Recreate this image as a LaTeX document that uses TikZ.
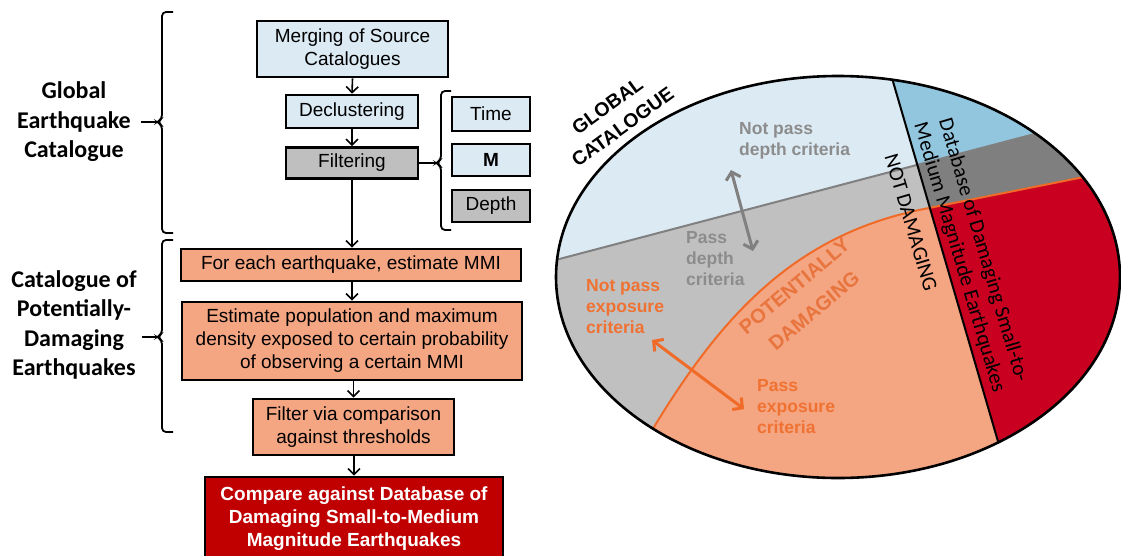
\documentclass[tikz,border=0pt]{standalone}
\usepackage{fontspec}
\setmainfont{Liberation Sans}
\newfontfamily\calibri{Carlito}
\usetikzlibrary{arrows.meta,shapes.geometric}
\definecolor{boxblue}{HTML}{DCEAF4}
\definecolor{boxgray}{HTML}{BFBFBF}
\definecolor{salmon}{HTML}{F4A582}
\definecolor{darkred}{HTML}{C00000}
\definecolor{elblue}{HTML}{DCEAF4}
\definecolor{emblue}{HTML}{92C5DE}
\definecolor{elgray}{HTML}{C0C0C0}
\definecolor{edgray}{HTML}{7F7F7F}
\definecolor{crimson}{HTML}{CA0020}
\definecolor{orangeln}{HTML}{F06A28}
\definecolor{orangetx}{HTML}{F07232}
\definecolor{potorange}{HTML}{E8743E}
\definecolor{graytx}{HTML}{8C8C8C}
\definecolor{grayln}{HTML}{808080}
\begin{document}
\begin{tikzpicture}[x=1pt,y=-1pt,
  flow/.style={draw=black, line width=2.6pt, align=center, inner sep=0pt,
    font=\fontsize{19}{23}\selectfont},
  conn/.style={line width=1.6pt, -{Straight Barb[length=6pt,width=12pt,line width=1.6pt]}},
  brk/.style={line width=1.8pt, rounded corners=4pt},
  lab/.style={font=\calibri\bfseries\fontsize{24}{29.5}\selectfont, align=center, inner ysep=0pt},
  gtext/.style={text=graytx, font=\bfseries\fontsize{17.5}{21}\selectfont, align=left, inner sep=0pt, anchor=west},
  otext/.style={text=orangetx, font=\bfseries\fontsize{17.5}{21}\selectfont, align=left, inner sep=0pt, anchor=west},
  pottext/.style={text=potorange, rotate=40, inner sep=0pt, font=\bfseries\fontsize{20}{24}\selectfont},
  dblarrow/.style={line width=3pt, {Straight Barb[length=7pt,width=15pt,line width=3pt]}-{Straight Barb[length=7pt,width=15pt,line width=3pt]}},
]
\clip (0,0) rectangle (1121,555);
\fill[white] (0,0) rectangle (1121,555);

% ---------------- left flow chart ----------------
\node[flow, fill=boxblue, minimum width=191pt, minimum height=56pt] (merge) at (352.5,49) {Merging of Source\\Catalogues};
\node[flow, fill=boxblue, minimum width=132pt, minimum height=33pt] (decl) at (352,111.5) {Declustering};
\node[flow, fill=boxgray, minimum width=132pt, minimum height=31pt] (filt) at (352,163) {Filtering};
\node[flow, fill=boxblue, minimum width=78pt, minimum height=34pt] (time) at (491,114) {Time};
\node[flow, fill=boxblue, minimum width=78pt, minimum height=32pt] (mag) at (491,160) {\bfseries M};
\node[flow, fill=boxgray, minimum width=78pt, minimum height=32pt] (depth) at (491,206) {Depth};
\node[flow, fill=salmon, minimum width=340pt, minimum height=32pt] (each) at (351,265) {For each earthquake, estimate MMI};
\node[flow, fill=salmon, minimum width=340pt, minimum height=78pt] (est) at (352,341) {Estimate population and maximum\\density exposed to certain probability\\of observing a certain MMI};
\node[flow, fill=salmon, minimum width=201pt, minimum height=56pt] (filter) at (353.5,427) {Filter via comparison\\against thresholds};
\node[flow, fill=darkred, text=white, minimum width=298pt, minimum height=84pt,
  font=\bfseries\fontsize{19}{23}\selectfont] (comp) at (354,519) {Compare against Database of\\Damaging Small-to-Medium\\Magnitude Earthquakes};

\draw[conn] (merge.south) -- (decl.north);
\draw[conn] (decl.south) -- (filt.north);
\draw[conn] (filt.south) -- (filt.south |- each.north);
\draw[conn] (each.south -| est.north) -- (est.north);
\draw[conn] (est.south -| filter.north) -- (filter.north);
\draw[conn] (filter.south -| comp.north) -- (comp.north);

% small bracket for filters
\coordinate (stip) at (436,163);
\draw[brk] (451,91) -- (441,91) -- (441,160) -- (stip) -- (441,166) -- (441,230) -- (451,230);
\draw[line width=1.6pt] (filt.east) -- (stip);

% large braces and labels
\node[lab, inner xsep=10pt] (glab) at (74,122) {Global\\Earthquake\\Catalogue};
\coordinate (gtip) at (157,122);
\draw[brk] (173,12) -- (162,12) -- (162,119) -- (gtip) -- (162,125) -- (162,233) -- (173,233);
\draw[line width=1.6pt] (glab.east) -- (gtip);

\node[lab, inner xsep=5pt] (clab) at (74,325) {Catalogue of\\Potentially-\\Damaging\\Earthquakes};
\coordinate (ctip) at (157,337);
\draw[brk] (173,240) -- (162,240) -- (162,334) -- (ctip) -- (162,340) -- (162,432) -- (173,432);
\draw[line width=1.6pt] (clab.east |- ctip) -- (ctip);

% ---------------- right ellipse ----------------
\begin{scope}
  \clip (838,277) ellipse [x radius=282pt, y radius=201pt];
  \fill[elgray] (500,50) rectangle (1130,500);
  \begin{scope}
    \clip (883.8,50) -- (1015.1,500) -- (500,500) -- (500,50) -- cycle;
    \fill[elblue] (500,50) -- (500,274.6) -- (1130,108.9) -- (1130,50) -- cycle;
    \fill[salmon] (634,465) -- (654,427) .. controls (725,310) and (800,232) .. (929,208) -- (1130,167.8) -- (1130,500) -- (600,500) -- cycle;
  \end{scope}
  \begin{scope}
    \clip (883.8,50) -- (1015.1,500) -- (1130,500) -- (1130,50) -- cycle;
    \fill[edgray] (850,50) rectangle (1130,500);
    \fill[emblue] (850,50) -- (850,182.6) -- (1130,108.9) -- (1130,50) -- cycle;
    \fill[crimson] (850,223.8) -- (1130,167.8) -- (1130,500) -- (850,500) -- cycle;
  \end{scope}
  \draw[grayln, line width=2pt] (500,274.6) -- (1130,108.9);
  \draw[orangeln, line width=2pt] (634,465) -- (654,427) .. controls (725,310) and (800,232) .. (929,208) -- (1130,167.8);
  \draw[black, line width=2pt] (883.8,50) -- (1015.1,500);
\end{scope}
\node[draw=black, line width=2.6pt, ellipse, minimum width=564pt, minimum height=402pt, inner sep=0pt] (cat) at (838,277) {};

% texts in the ellipse
\node[rotate=36, align=center, font=\bfseries\fontsize{19.5}{26}\selectfont] (gcat) at (615,116.5) {GLOBAL\\CATALOGUE};

\node[gtext] (npd) at (739,140.5) {Not pass\\depth criteria};
\node[gtext] (pd) at (686,259) {Pass\\depth\\criteria};
\coordinate (ga) at (731,170);
\coordinate (gb) at (753,251);
\draw[grayln, dblarrow] (ga) -- (gb);

\node[otext] (npe) at (586,307) {Not pass\\exposure\\criteria};
\node[otext] (pe) at (757,407) {Pass\\exposure\\criteria};
\coordinate (oa) at (652,340);
\coordinate (ob) at (744,409);
\draw[orangeln, dblarrow] (oa) -- (ob);

\node[pottext] (pot1) at (794.5,286) {POTENTIALLY};
\node[pottext] (pot2) at (814,311) {DAMAGING};

\node[rotate=-73.5, font=\calibri\fontsize{21}{25}\selectfont] (notd) at (911,222.5) {NOT DAMAGING};
\node[rotate=-73.5, align=center, font=\calibri\fontsize{21}{25}\selectfont] (dbase) at (971,254) {Database of Damaging Small-to-\\Medium Magnitude Earthquakes};
\end{tikzpicture}
\end{document}
